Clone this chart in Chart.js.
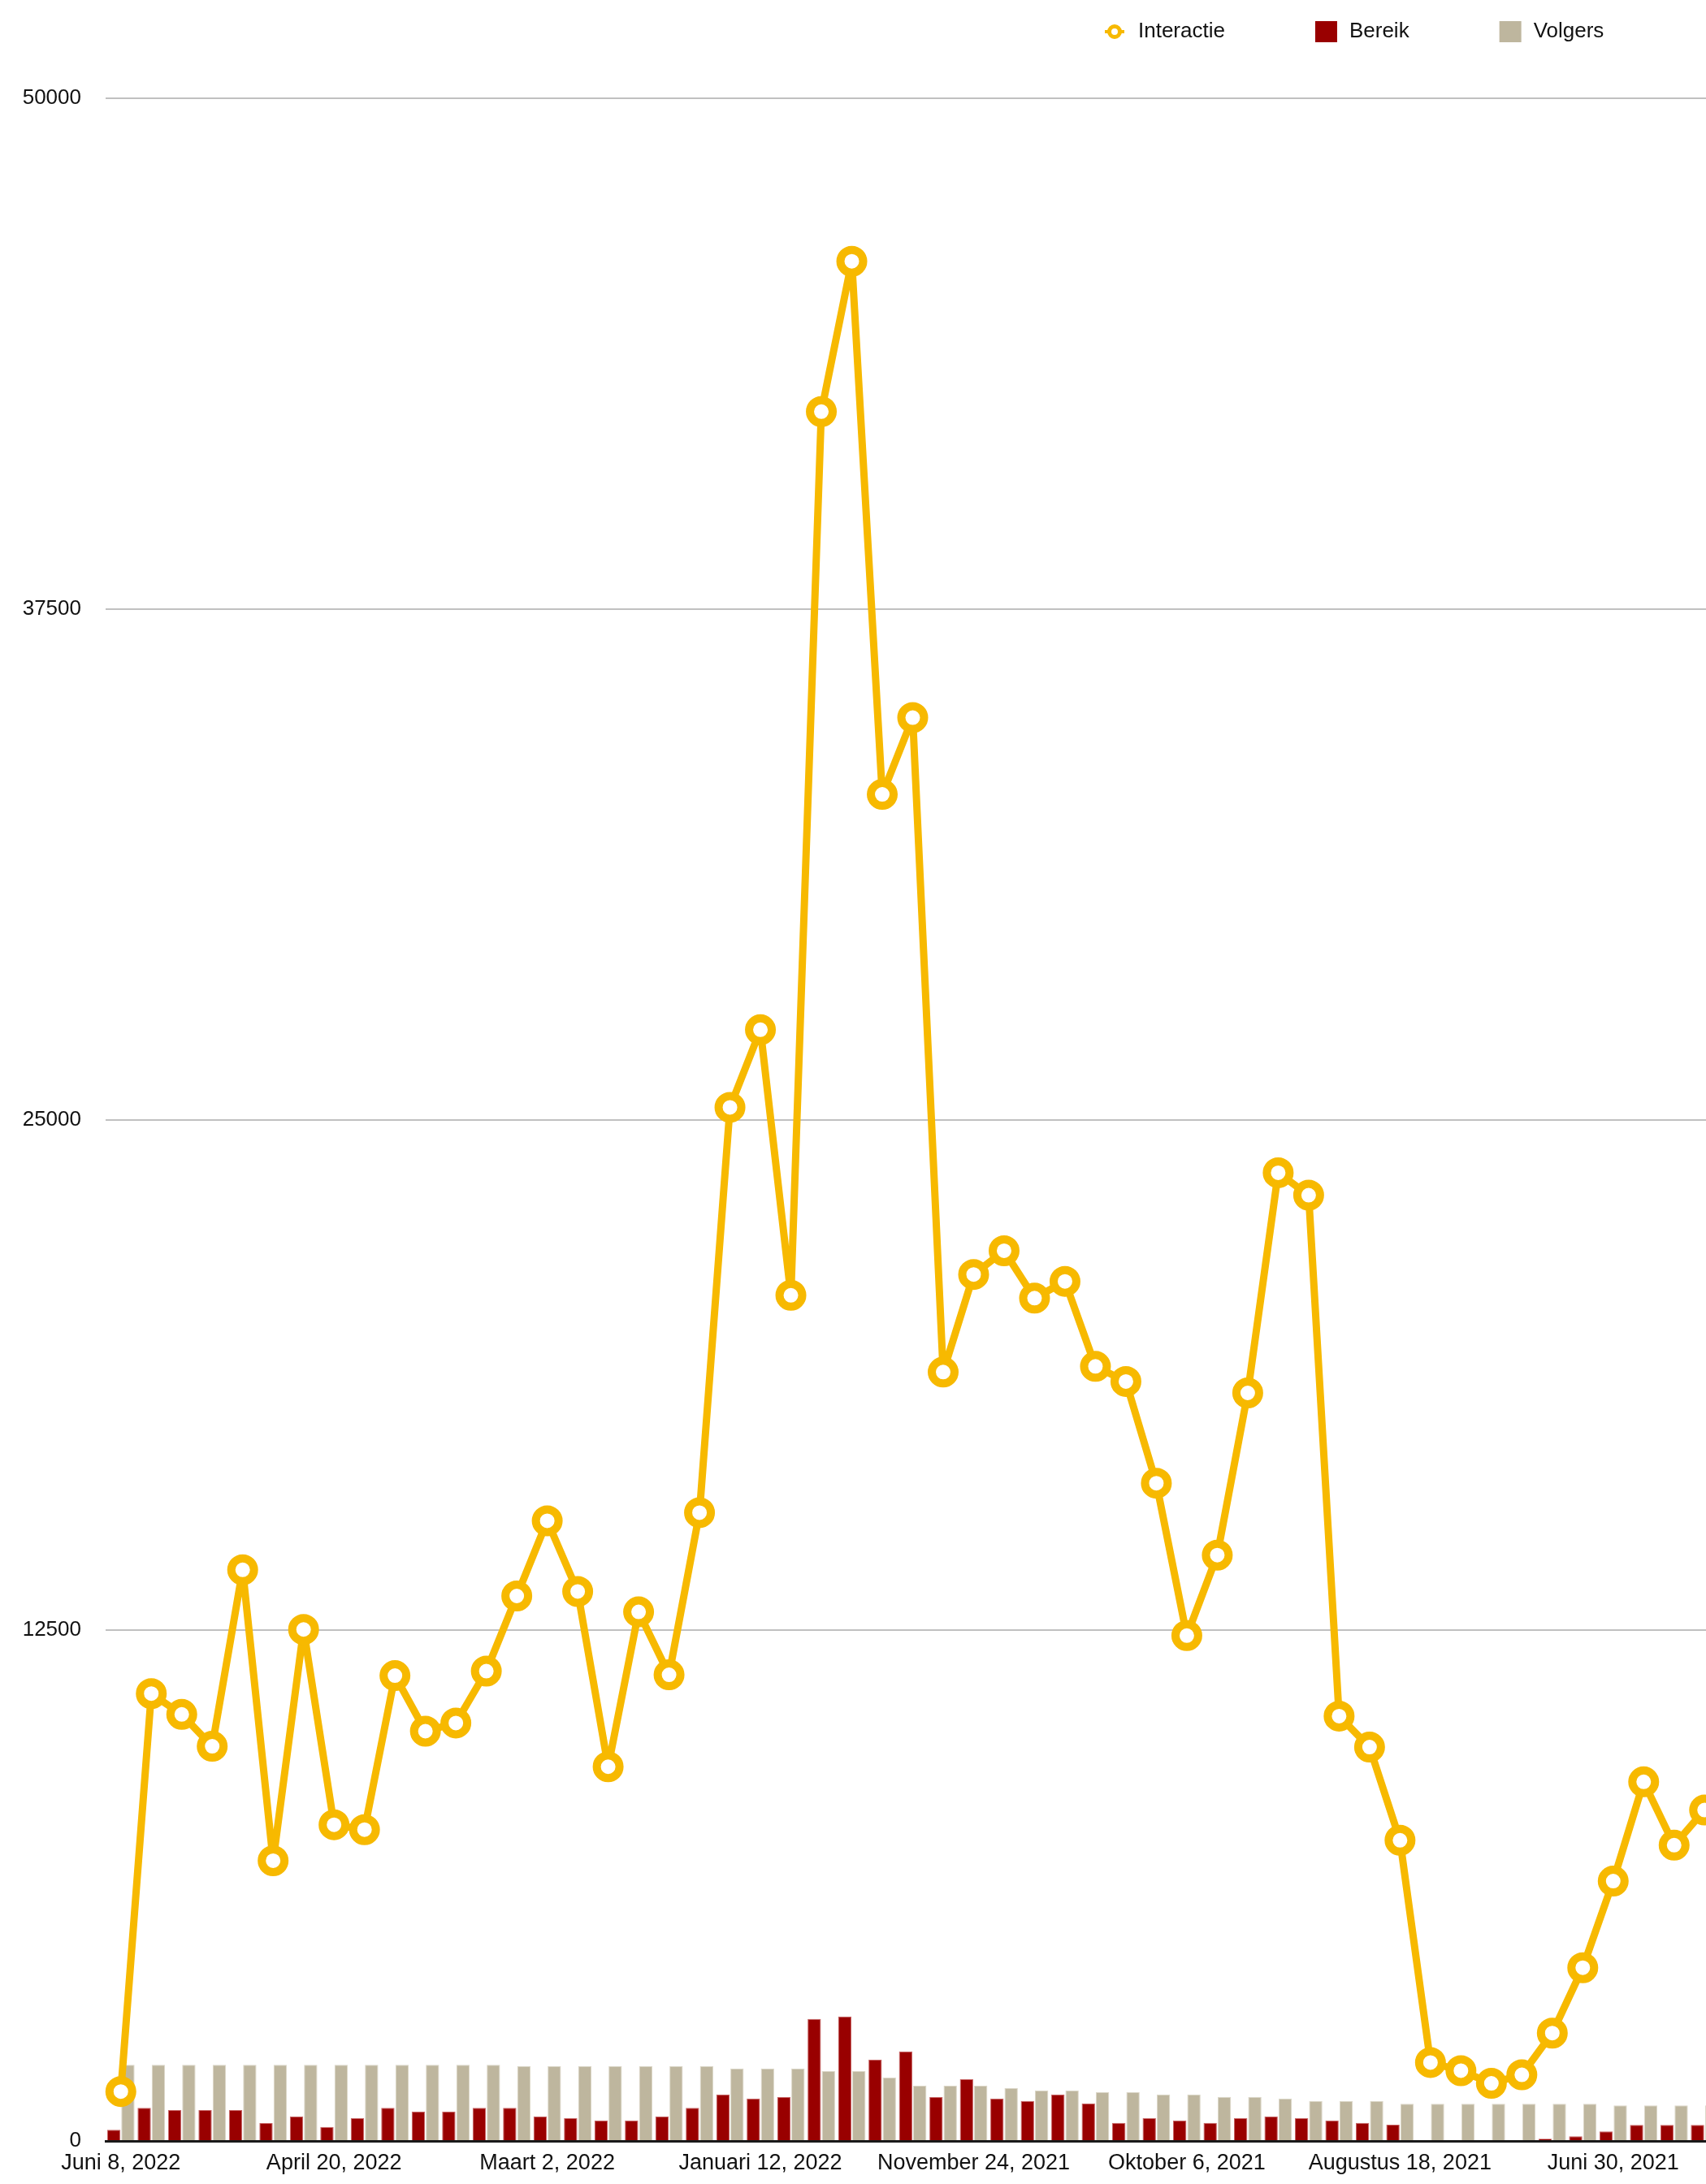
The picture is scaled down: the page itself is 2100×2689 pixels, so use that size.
<!DOCTYPE html>
<html>
<head>
<meta charset="utf-8">
<title>Interactie, Bereik en Volgers</title>
<script src="https://cdn.jsdelivr.net/npm/chart.js@4.4.1/dist/chart.umd.min.js"></script>
<style>
	html, body { margin: 0; padding: 0; background: #fff; overflow: hidden; }
	#wrap { position: absolute; left: 0; top: 0; width: 2117px; height: 2689px; }
</style>
</head>
<body>
<div id="wrap"><canvas id="chart" width="2117" height="2689"></canvas></div>
<script>
var labels = [
	"Juni 8, 2022", "Juni 1, 2022", "Mei 25, 2022", "Mei 18, 2022", "Mei 11, 2022", "Mei 4, 2022", "April 27, 2022",
	"April 20, 2022", "April 13, 2022", "April 6, 2022", "Maart 30, 2022", "Maart 23, 2022", "Maart 16, 2022", "Maart 9, 2022",
	"Maart 2, 2022", "Februari 23, 2022", "Februari 16, 2022", "Februari 9, 2022", "Februari 2, 2022", "Januari 26, 2022", "Januari 19, 2022",
	"Januari 12, 2022", "Januari 5, 2022", "December 29, 2021", "December 22, 2021", "December 15, 2021", "December 8, 2021", "December 1, 2021",
	"November 24, 2021", "November 17, 2021", "November 10, 2021", "November 3, 2021", "Oktober 27, 2021", "Oktober 20, 2021", "Oktober 13, 2021",
	"Oktober 6, 2021", "September 29, 2021", "September 22, 2021", "September 15, 2021", "September 8, 2021", "September 1, 2021", "Augustus 25, 2021",
	"Augustus 18, 2021", "Augustus 11, 2021", "Augustus 4, 2021", "Juli 28, 2021", "Juli 21, 2021", "Juli 14, 2021", "Juli 7, 2021",
	"Juni 30, 2021", "Juni 23, 2021", "Juni 16, 2021", "Juni 9, 2021"
];

var interactie = [
	1210, 10950, 10440, 9660, 13980, 6860, 12520,
	7740, 7620, 11390, 10030, 10230, 11500, 13340,
	15180, 13450, 9160, 12950, 11410, 15380, 25300,
	27200, 20700, 42330, 46010, 32960, 34840, 18820,
	21210, 21790, 20630, 21040, 18960, 18590, 16100,
	12370, 14340, 18310, 23700, 23150, 10400, 9640,
	7360, 1920, 1720, 1410, 1620, 2640, 4240,
	6360, 8790, 7240, 8100
];

var bereik = [
	275, 810, 755, 755, 755, 435, 603,
	345, 563, 810, 722, 722, 810, 810,
	603, 563, 503, 503, 603, 810, 1139,
	1040, 1075, 2985, 3045, 1990, 2190, 1075,
	1512, 1040, 981, 1139, 921, 444, 563,
	503, 444, 563, 603, 563, 503, 444,
	400, 0, 0, 0, 0, 55, 115,
	235, 395, 395, 395
];

var volgers = [
	1862, 1862, 1862, 1862, 1862, 1862, 1862,
	1862, 1862, 1862, 1862, 1862, 1862, 1834,
	1834, 1834, 1834, 1834, 1834, 1834, 1775,
	1775, 1775, 1710, 1710, 1552, 1352, 1352,
	1352, 1298, 1239, 1239, 1199, 1199, 1139,
	1139, 1080, 1080, 1040, 981, 981, 981,
	910, 910, 910, 910, 910, 910, 910,
	870, 870, 870, 870
];

var yTicks = [0, 12500, 25000, 37500, 50000];

var geel = "#f7b900";
var rood = "#990000";
var beige = "#beb69e";
var lettertype = "'Liberation Sans', Arial, Helvetica, sans-serif";

var legendaPlugin = {
	id: "legenda",
	afterDraw: function (chart) {
		var ctx = chart.ctx;
		var x = 1359, y = 39;
		ctx.save();
		ctx.font = "26px " + lettertype;
		ctx.textBaseline = "middle";
		chart.data.datasets.forEach(function (ds) {
			if (ds.type === "line") {
				ctx.strokeStyle = ds.borderColor;
				ctx.lineWidth = 4;
				ctx.beginPath();
				ctx.moveTo(x + 1, y);
				ctx.lineTo(x + 25, y);
				ctx.stroke();
				ctx.lineWidth = 5;
				ctx.beginPath();
				ctx.arc(x + 13, y, 6.5, 0, 2 * Math.PI);
				ctx.fillStyle = "#fff";
				ctx.fill();
				ctx.stroke();
			} else {
				ctx.fillStyle = ds.backgroundColor;
				ctx.fillRect(x, y - 13, 27, 26);
			}
			ctx.fillStyle = "#111";
			ctx.fillText(ds.label, x + 42, y);
			x += 42 + ctx.measureText(ds.label).width + 111;
		});
		ctx.restore();
	}
};

var ctx = document.getElementById("chart").getContext("2d");

var chart = new Chart(ctx, {
	type: "bar",
	data: {
		labels: labels,
		datasets: [
			{
				type: "line",
				label: "Interactie",
				data: interactie,
				borderColor: geel,
				borderWidth: 9,
				borderJoinStyle: "round",
				pointRadius: 14,
				pointBorderWidth: 10,
				pointBackgroundColor: "#fff",
				pointBorderColor: geel,
				tension: 0,
				order: 0
			},
			{
				label: "Bereik",
				data: bereik,
				backgroundColor: rood,
				borderColor: "#c86464",
				borderWidth: 1,
				categoryPercentage: 0.93,
				barPercentage: 0.94,
				order: 1
			},
			{
				label: "Volgers",
				data: volgers,
				backgroundColor: beige,
				borderColor: "#dcd7c8",
				borderWidth: 1,
				categoryPercentage: 0.93,
				barPercentage: 0.94,
				order: 2
			}
		]
	},
	options: {
		responsive: false,
		animation: false,
		events: [],
		layout: {
			autoPadding: false,
			padding: { top: 121, left: 28, right: 0, bottom: 0 }
		},
		plugins: {
			legend: { display: false },
			tooltip: { enabled: false }
		},
		scales: {
			x: {
				offset: true,
				grid: { display: false, drawTicks: false },
				border: { display: true, color: "#1a1a1a", width: 3 },
				afterFit: function (scale) {
					scale.paddingLeft = 0;
					scale.paddingRight = 0;
					scale.height = 53;
				},
				ticks: {
					autoSkip: false,
					maxRotation: 0,
					padding: 11,
					color: "#111",
					font: { family: lettertype, size: 27 },
					callback: function (v, i) {
						return i % 7 === 0 ? labels[i] : null;
					}
				}
			},
			y: {
				min: yTicks[0],
				max: yTicks[yTicks.length - 1],
				afterBuildTicks: function (axis) {
					axis.ticks = yTicks.map(function (v) { return { value: v }; });
				},
				afterFit: function (scale) {
					scale.width = 102;
				},
				grid: { color: "#c0c0c0", lineWidth: 2, drawTicks: false },
				border: { display: false },
				ticks: {
					padding: 30,
					color: "#111",
					font: { family: lettertype, size: 26 },
					callback: function (v) { return String(v); }
				}
			}
		}
	},
	plugins: [legendaPlugin]
});
</script>
</body>
</html>
